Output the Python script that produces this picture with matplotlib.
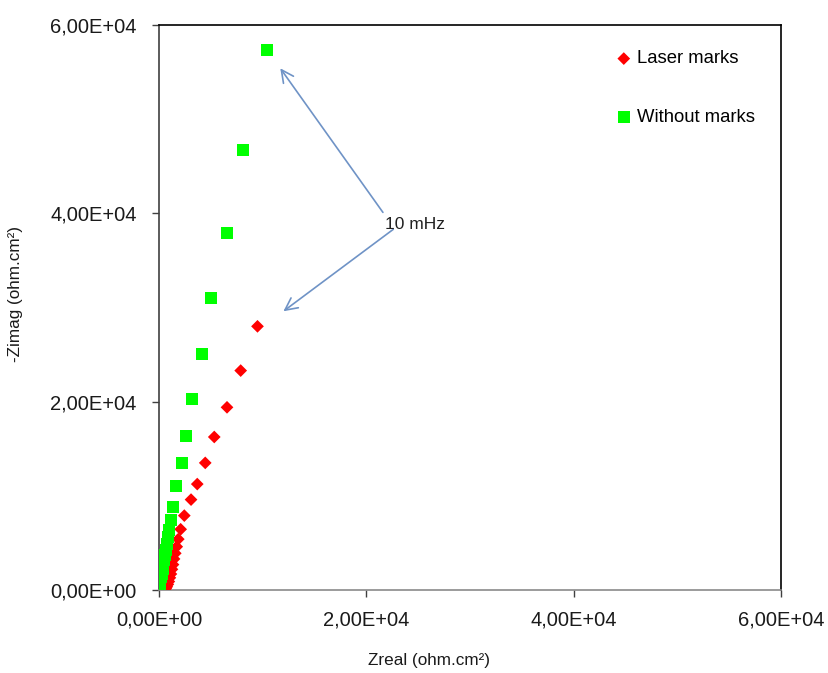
"""Nyquist plot: laser marks vs without marks."""

import matplotlib

matplotlib.use("Agg")
import matplotlib.pyplot as plt
from matplotlib.ticker import FuncFormatter, MultipleLocator

plt.rcParams["font.family"] = ["Liberation Sans", "DejaVu Sans"]

# Without marks (green squares), ohm.cm2
zreal_plain = [10450, 8100, 6560, 4970, 4120, 3180, 2570, 2220, 1670, 1380, 1130,
               1000, 880, 780, 680, 590, 500, 420, 340, 270, 200, 140, 90, 50, 20]
zimag_plain = [57350, 46700, 37900, 31000, 25100, 20250, 16400, 13500, 11050, 8850, 7400,
               6400, 5600, 4900, 4300, 3700, 3150, 2650, 2200, 1750, 1350, 950, 600, 300, 100]

# Laser marks (red diamonds), ohm.cm2
zreal_laser = [9500, 7880, 6560, 5330, 4460, 3690, 3090, 2440, 2090, 1860, 1710, 1570,
               1450, 1350, 1250, 1150, 1050, 950, 850, 750, 650]
zimag_laser = [28000, 23300, 19400, 16250, 13500, 11250, 9600, 7900, 6450, 5400, 4600, 3900,
               3300, 2700, 2200, 1700, 1300, 900, 600, 350, 150]

# 10 mHz annotation: label position and arrow targets
note_xy = (21800, 38800)
arrow_heads = [(11700, 55400), (12000, 29600)]
arrow_tails = [(21600, 40100), (22600, 38300)]


def sci_comma(value, _pos):
    return f"{value:.2E}".replace(".", ",")


fig = plt.figure(figsize=(8.29, 6.73), dpi=100)
ax = fig.add_axes([0.1918, 0.1233, 0.7503, 0.8396])

ax.scatter(zreal_laser, zimag_laser, marker="D", s=42, color="#FF0000",
           edgecolors="none", label="Laser marks", zorder=3)
ax.scatter(zreal_plain, zimag_plain, marker="s", s=75, color="#00FF00",
           edgecolors="none", label="Without marks", zorder=4)

for head, tail in zip(arrow_heads, arrow_tails):
    ax.annotate("", xy=head, xytext=tail,
                arrowprops=dict(arrowstyle="->", color="#6F93C6", lw=1.2,
                                mutation_scale=22, shrinkA=0, shrinkB=0))
ax.text(*note_xy, "10 mHz", fontsize=12.5, color="#202020", ha="left", va="center")

ax.set_xlim(0, 60000)
ax.set_ylim(0, 60000)
ax.xaxis.set_major_locator(MultipleLocator(20000))
ax.yaxis.set_major_locator(MultipleLocator(20000))
ax.xaxis.set_major_formatter(FuncFormatter(sci_comma))
ax.yaxis.set_major_formatter(FuncFormatter(sci_comma))
ax.tick_params(axis="both", direction="out", length=5, width=1, labelsize=14.5,
               colors="#404040", labelcolor="#1a1a1a")
ax.tick_params(axis="x", pad=10)
ax.tick_params(axis="y", pad=11)

ax.spines["left"].set_color("#404040")
ax.spines["bottom"].set_color("#8a8a8a")
ax.spines["top"].set_color("black")
ax.spines["right"].set_color("black")
for side in ax.spines:
    ax.spines[side].set_linewidth(1.2)

ax.set_xlabel("Zreal (ohm.cm²)", fontsize=12.3, color="#1a1a1a")
ax.set_ylabel("-Zimag (ohm.cm²)", fontsize=12.3, color="#1a1a1a")
ax.xaxis.set_label_coords(0.434, -0.1115)
ax.yaxis.set_label_coords(-0.2186, 0.524)

handles, labels = ax.get_legend_handles_labels()
ax.legend(handles, labels, loc="upper left", bbox_to_anchor=(0.722, 0.968),
          frameon=False, fontsize=13.3, labelspacing=2.25, handletextpad=0.25,
          handlelength=0.9, borderaxespad=0, scatterpoints=1)

fig.savefig("out.png", dpi=100)
